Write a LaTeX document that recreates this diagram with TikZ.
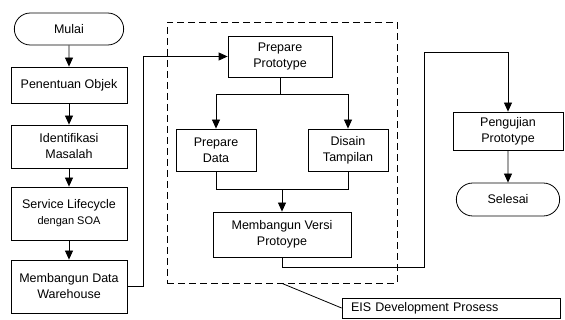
\documentclass[tikz,border=0pt]{standalone}
\usepackage{fontspec}
\setmainfont{Liberation Sans}
\usetikzlibrary{arrows.meta,shapes.misc}

\begin{document}
\begin{tikzpicture}[
  block/.style={rectangle, draw, thick, minimum width=116pt, align=center, inner sep=2pt},
  term/.style={rounded rectangle, draw, thick, minimum width=116pt, minimum height=32pt},
  >={Triangle[width=8pt,length=9pt]},
  node distance=60pt,
  font=\fontsize{12.5}{16}\selectfont
]
\useasboundingbox (0,0) rectangle (565pt,-320pt);

% kolom kiri
\node[term] (mulai) at (69pt,-29pt) {Mulai};
\node[block, below of=mulai, node distance=56pt, minimum height=36pt] (objek) {Penentuan Objek};
\node[block, below of=objek, node distance=61.5pt, minimum height=43pt] (masalah) {Identifikasi\\Masalah};
\node[block, below of=masalah, node distance=67pt, minimum height=53pt] (soa) {Service Lifecycle\\{\fontsize{11}{14}\selectfont dengan SOA}};
\node[block, below of=soa, node distance=73pt, minimum height=53pt] (dwh) {Membangun Data\\Warehouse};

% EIS development
\node[draw, thick, dash pattern=on 7pt off 4pt, minimum width=230pt, minimum height=261pt] (eisframe) at (282pt,-152.5pt) {};
\node[block, right of=mulai, node distance=211pt, yshift=-27.5pt, minimum width=104pt, minimum height=41pt] (prepproto) {Prepare\\Prototype};
\node[block, below of=prepproto, node distance=93.5pt, xshift=-64pt, minimum width=80pt, minimum height=42pt] (prepdata) {Prepare\\Data};
\node[block, right of=prepdata, node distance=132pt, minimum width=80pt, minimum height=42pt] (disain) {Disain\\Tampilan};
\node[block, below of=prepdata, node distance=84.5pt, xshift=66pt, minimum width=138pt, minimum height=45pt] (versi) {Membangun Versi\\Protoype};

% kolom kanan
\node[block, right of=prepproto, node distance=228pt, yshift=-74.5pt, minimum width=110pt, minimum height=38pt] (uji) {Pengujian\\Prototype};
\node[term, below of=uji, node distance=68.5pt, minimum width=110pt, minimum height=33pt] (selesai) {Selesai};

\node[draw, thick, right of=versi, node distance=169pt, yshift=-73.5pt, text width=200pt, inner xsep=9pt, inner ysep=0pt, minimum height=20pt, align=left] (eis) {EIS Development Prosess};

\coordinate (turn) at (424pt,-52pt);

\draw[->,thick] (mulai) -- (objek);
\draw[->,thick] (objek) -- (masalah);
\draw[->,thick] (masalah) -- (soa);
\draw[->,thick] (soa) -- (dwh);
\draw[->,thick] (dwh.east) -- ++(16pt,0) |- (prepproto.west);
\draw[->,thick] (prepproto.south) -- ++(0,-17.5pt) -| (prepdata.north);
\draw[->,thick] (prepproto.south) -- ++(0,-17.5pt) -| (disain.north);
\draw[thick] (prepdata.south) -- ++(0,-18pt) coordinate (joinl) -| (disain.south);
\draw[->,thick] (joinl -| versi.north) -- (versi.north);
\draw[->,thick] (versi.south) -- ++(0,-10pt) -| (turn) -| (uji.north);
\draw[->,thick] (uji) -- (selesai);
\draw[thick] (eisframe.south) -- (eis.west);
\end{tikzpicture}
\end{document}
